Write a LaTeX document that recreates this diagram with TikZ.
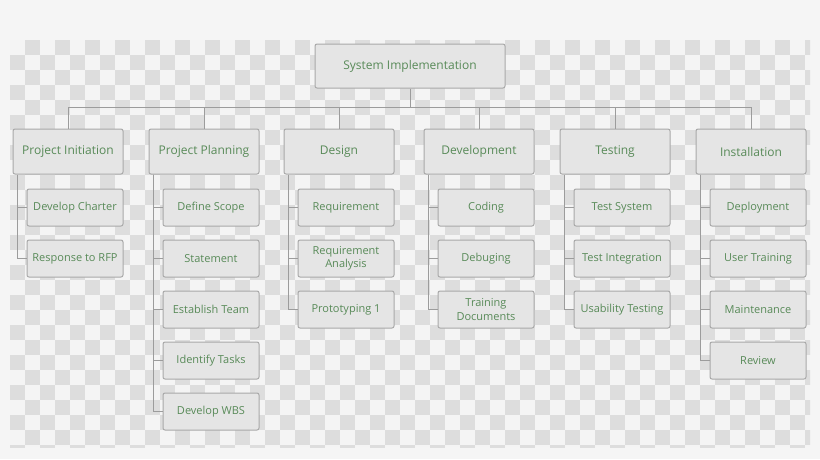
\documentclass[tikz,border=0pt]{standalone}
\usepackage{fontspec}
\setmainfont{Open Sans}
\usetikzlibrary{positioning,calc}

\definecolor{pagebg}{HTML}{F5F5F5}
\definecolor{chklight}{HTML}{F4F4F4}
\definecolor{chkdark}{HTML}{DDDDDD}
\definecolor{boxfill}{HTML}{E5E5E5}
\definecolor{boxline}{HTML}{A9A9A9}
\definecolor{wirecol}{HTML}{9C9C9C}
\definecolor{txtgreen}{HTML}{588A58}

\begin{document}
\begin{tikzpicture}[x=1pt,y=-1pt,
  top/.style={draw=boxline,fill=boxfill,line width=1pt,rounded corners=2pt,
    minimum width=110pt,minimum height=45pt,inner sep=1pt,
    font=\fontsize{12}{14}\selectfont,text=txtgreen},
  sub/.style={draw=boxline,fill=boxfill,line width=1pt,rounded corners=2pt,
    minimum width=96pt,minimum height=37pt,inner sep=1pt,align=center,
    font=\fontsize{11}{13.5}\selectfont,text=txtgreen},
  wire/.style={draw=wirecol,line width=0.9pt}]
% background with checker pattern
\fill[pagebg] (0,0) rectangle (820,459);
\begin{scope}
  \clip (10,40) rectangle (810,447);
  \fill[chklight] (10,40) rectangle (810,447);
  \foreach \i in {0,...,53}{
    \foreach \j in {0,...,27}{
      \pgfmathparse{int(mod(\i+\j,2))}
      \ifnum\pgfmathresult=1
        \fill[chkdark] ({10+15*\i},{40+15*\j}) rectangle ++(15,15);
      \fi
    }
  }
\end{scope}
% root and phases
\node[top,minimum width=190pt,minimum height=44pt] (root) at (410,66) {System Implementation};
\coordinate (bus) at (0,107);
\foreach \nm/\x/\lab in {pinit/68/Project Initiation,pplan/204/Project Planning,
    design/339/Design,devel/479/Development,test/615/Testing,inst/751/Installation}{
  \node[top] (\nm) at (\x,151.5) {\lab};
}
\draw[wire] (root.south) -- (root.south |- bus);
\draw[wire] (pinit.north |- bus) -- (inst.north |- bus);
\foreach \nm in {pinit,pplan,design,devel,test,inst}
  \draw[wire] (\nm.north) -- (\nm.north |- bus);
% work packages
\foreach \nm/\list in {pinit/{Develop Charter,Response to RFP},
    pplan/{Define Scope,Statement,Establish Team,Identify Tasks,Develop WBS},
    design/{Requirement,Requirement\\Analysis,Prototyping 1},
    devel/{Coding,Debuging,Training\\Documents},
    test/{Test System,Test Integration,Usability Testing},
    inst/{Deployment,User Training,Maintenance,Review}}{
  \foreach \lab [count=\k] in \list {
    \node[sub] (\nm-\k) at ($(\nm)+(7,{5+51*\k})$) {\lab};
    \draw[wire] ($(\nm.south west)+(5,0)$) |- (\nm-\k.west);
  }
}
\end{tikzpicture}
\end{document}
